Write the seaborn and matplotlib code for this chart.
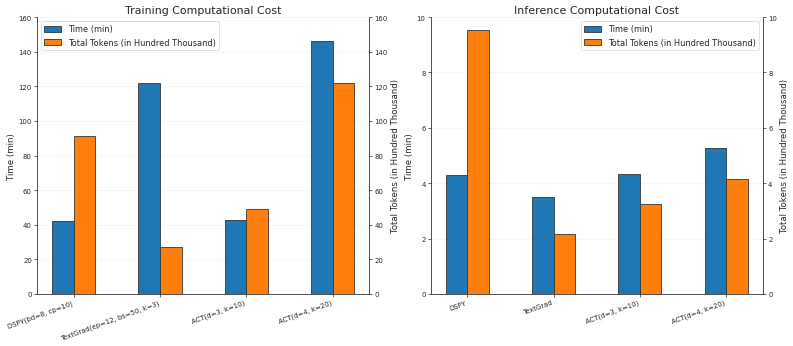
# Training / inference cost comparison, twin-axis bar charts
import pandas as pd
import seaborn as sns
import matplotlib.pyplot as plt

# -------------------------------
# Data
# -------------------------------
train_methods = ["DSPY(bd=8, cp=10)", "TextGrad(ep=12, bs=50, k=3)", "ACT(d=3, k=10)", "ACT(d=4, k=20)"]
train_time = [42, 122, 43, 146]
train_tokens = [91, 27, 49, 122]

infer_methods = ["DSPY", "TextGrad", "ACT(d=3, k=10)", "ACT(d=4, k=20)"]
infer_time = [4.3, 3.5, 4.35, 5.28]
infer_tokens = [9.55, 2.18, 3.25, 4.17]

metrics = ["Time (min)", "Total Tokens (in Hundred Thousand)"]
colors = ["#1f77b4", "#ff7f0e"]


def long_df(methods, time, tokens):
    return pd.DataFrame({
        "method": methods * 2,
        "metric": [metrics[0]] * len(methods) + [metrics[1]] * len(methods),
        "value": list(time) + list(tokens),
    })


sns.set_style("white")
plt.rcParams["font.family"] = ["DejaVu Sans"]

fig, axes = plt.subplots(1, 2, figsize=(16, 7), dpi=793 / 16)
fig.subplots_adjust(left=0.0467, right=0.962, bottom=0.150, top=0.948, wspace=0.185)

panels = [
    (axes[0], long_df(train_methods, train_time, train_tokens), "Training Computational Cost", 160, "upper left"),
    (axes[1], long_df(infer_methods, infer_time, infer_tokens), "Inference Computational Cost", 10, "upper right"),
]

for ax, df, title, ymax, loc in panels:
    sns.barplot(data=df, x="method", y="value", hue="metric", palette=colors,
                saturation=1, width=0.5, edgecolor="#333333", linewidth=1.2, ax=ax)
    ax.set_xlim(-0.425, 3.425)
    ax.set_ylim(0, ymax)
    ax.set_xlabel("")
    ax.set_ylabel("Time (min)", fontsize=12.5)
    ax.set_title(title, fontsize=16)
    ax.grid(axis="y", alpha=0.3)
    ax.set_axisbelow(True)
    ax.tick_params(axis="both", labelsize=10, length=4, width=1, left=True, bottom=True)
    plt.setp(ax.get_xticklabels(), rotation=20, ha="right")
    ax.spines["top"].set_visible(False)
    leg = ax.legend(loc=loc, fontsize=12)
    leg.set_title(None)

    ax2 = ax.twinx()
    ax2.set_ylim(0, ymax)
    ax2.set_ylabel("Total Tokens (in Hundred Thousand)", fontsize=12.5)
    ax2.tick_params(axis="y", labelsize=10, length=4, width=1, right=True)
    ax2.spines["top"].set_visible(False)

fig.savefig("out.png", dpi=793 / 16)
